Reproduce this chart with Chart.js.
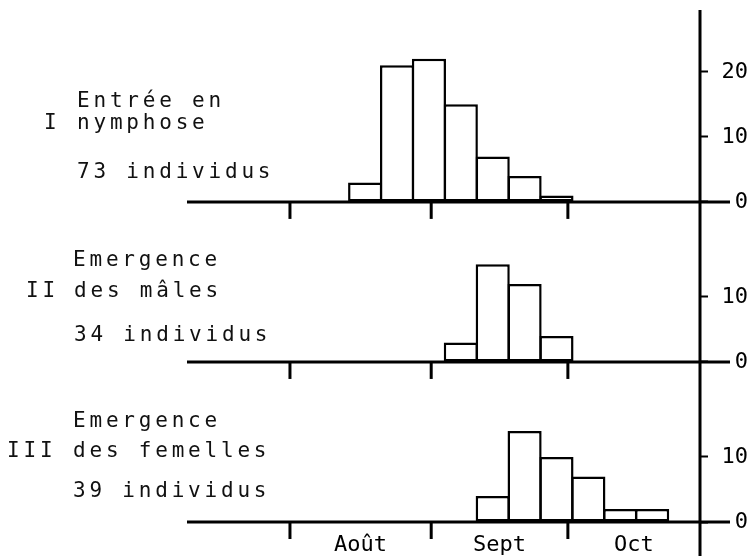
<!DOCTYPE html>
<html lang="fr">
<head>
<meta charset="utf-8">
<title>Entrée en nymphose et émergence</title>
<script src="https://cdn.jsdelivr.net/npm/chart.js@4.4.1/dist/chart.umd.min.js"></script>
<style>
  html, body { margin: 0; padding: 0; background: #fff; }
  #wrap { position: relative; width: 752px; height: 556px; overflow: hidden; }
  #wrap canvas { position: absolute; left: 0; top: 0; }
  .lbl {
    position: absolute;
    font-family: "DejaVu Sans Mono", monospace;
    font-size: 21px;
    line-height: 21px;
    letter-spacing: 3.8px;
    color: #111;
    white-space: pre;
  }
</style>
</head>
<body>
<div id="wrap">
  <canvas id="chart" width="752" height="556"></canvas>

  <div class="lbl" style="left:77px; top:90px">Entrée en</div>
  <div class="lbl" style="left:44px; top:112px">I</div>
  <div class="lbl" style="left:77px; top:112px">nymphose</div>
  <div class="lbl" style="left:77px; top:161px">73 individus</div>

  <div class="lbl" style="left:73px; top:249px">Emergence</div>
  <div class="lbl" style="left:26px; top:280px">II</div>
  <div class="lbl" style="left:74px; top:280px">des mâles</div>
  <div class="lbl" style="left:74px; top:324px">34 individus</div>

  <div class="lbl" style="left:73px; top:410px">Emergence</div>
  <div class="lbl" style="left:7px; top:440px">III</div>
  <div class="lbl" style="left:73px; top:440px">des femelles</div>
  <div class="lbl" style="left:73px; top:480px">39 individus</div>
</div>

<script>
// jours comptés depuis le 1er août ; une classe = une semaine
const weekStart = [13, 20, 27, 34, 41, 48, 55, 62, 69, 76];

// effectifs par semaine
const nymphose = [3, 21, 22, 15, 7, 4, 1, 0, 0, 0];
const males = [0, 0, 0, 3, 15, 12, 4, 0, 0, 0];
const femelles = [0, 0, 0, 0, 4, 14, 10, 7, 2, 2];

// debut des mois (1 août, 1 sept, 1 oct, 1 nov)
const monthStart = [0, 31, 61, 92];
const monthLabels = ["Août", "Sept", "Oct"];

const yTicks1 = [0, 10, 20];
const yTicks2 = [0, 10];
const yTicks3 = [0, 10];

Chart.defaults.font.family = "'DejaVu Sans Mono', monospace";
Chart.defaults.font.size = 22;
Chart.defaults.color = "#000";

function toBars(counts) {
  return counts.map((n, i) => ({ x: weekStart[i] + 3.5, y: n > 0 ? n : null }));
}

function panelAxis(min, max, ticks) {
  return {
    type: "linear",
    axis: "y",
    position: "right",
    stack: "panels",
    stackWeight: max - min,
    min: min,
    max: max,
    afterBuildTicks: (axis) => {
      axis.ticks = ticks.map((v) => ({ value: v }));
    },
    afterFit: (axis) => {
      axis.width = 48;
      axis.paddingTop = 0;
      axis.paddingBottom = 0;
    },
    border: { display: false },
    grid: { drawOnChartArea: false, tickLength: 8, tickWidth: 2, tickColor: "#000" },
    ticks: { crossAlign: "far", padding: 8, font: { size: 22, lineHeight: 1 } },
  };
}

// cadre : lignes de base, repères des mois, axe vertical
const frame = {
  id: "frame",
  afterDatasetsDraw(chart) {
    const { ctx, chartArea, scales } = chart;
    ctx.save();
    ctx.strokeStyle = "#000";
    ctx.lineWidth = 3;
    ["y1", "y2", "y3"].forEach((id) => {
      const y0 = scales[id].getPixelForValue(0);
      ctx.beginPath();
      ctx.moveTo(chartArea.left, y0);
      ctx.lineTo(chartArea.right + 30, y0);
      ctx.stroke();
      monthStart.slice(0, 3).forEach((d) => {
        const x = scales.x.getPixelForValue(d);
        ctx.beginPath();
        ctx.moveTo(x, y0);
        ctx.lineTo(x, y0 + 17);
        ctx.stroke();
      });
    });
    ctx.beginPath();
    ctx.moveTo(chartArea.right, chartArea.top);
    ctx.lineTo(chartArea.right, chart.height);
    ctx.stroke();
    ctx.restore();
  },
};

const barStyle = {
  backgroundColor: "#fff",
  borderColor: "#000",
  borderWidth: 2.5,
  borderSkipped: false,
  barPercentage: 1.07,
  categoryPercentage: 1,
  grouped: false,
};

new Chart(document.getElementById("chart").getContext("2d"), {
  type: "bar",
  data: {
    datasets: [
      { label: "Entrée en nymphose", data: toBars(nymphose), yAxisID: "y1", ...barStyle },
      { label: "Emergence des mâles", data: toBars(males), yAxisID: "y2", ...barStyle },
      { label: "Emergence des femelles", data: toBars(femelles), yAxisID: "y3", ...barStyle },
    ],
  },
  options: {
    responsive: false,
    animation: false,
    layout: { padding: { left: 187, top: 10, right: 4, bottom: 0 } },
    plugins: { legend: { display: false }, tooltip: { enabled: false } },
    scales: {
      x: {
        type: "linear",
        min: -22.6,
        max: 90,
        offset: false,
        afterBuildTicks: (axis) => {
          // repère au début de chaque mois, nom du mois au milieu de la partie visible
          const t = [];
          monthLabels.forEach((name, i) => {
            const end = Math.min(monthStart[i + 1], axis.max);
            t.push({ value: monthStart[i] });
            t.push({ value: (monthStart[i] + end) / 2, name: name });
          });
          axis.ticks = t;
        },
        border: { display: false },
        grid: { offset: false, drawOnChartArea: false, tickLength: 12, tickColor: "transparent" },
        ticks: {
          autoSkip: false,
          maxRotation: 0,
          padding: 0,
          font: { size: 22, lineHeight: 1 },
          callback: (value, i, ticks) => ticks[i].name || "",
        },
      },
      y1: panelAxis(-4.3, 29.5, yTicks1),
      y2: panelAxis(-4.3, 20.3, yTicks2),
      y3: panelAxis(0, 20.3, yTicks3),
    },
  },
  plugins: [frame],
});
</script>
</body>
</html>
